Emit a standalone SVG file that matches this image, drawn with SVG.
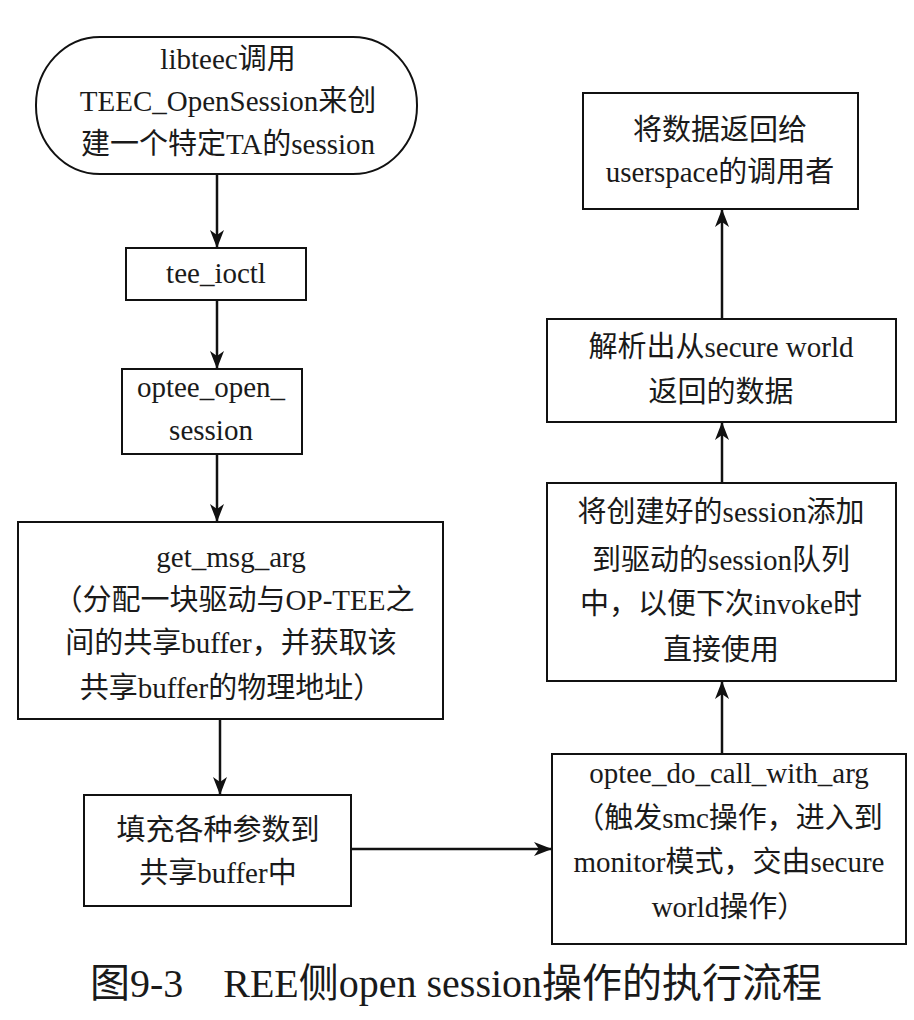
<svg xmlns="http://www.w3.org/2000/svg" width="914" height="1020" viewBox="0 0 914 1020">
<style>
.box{fill:#fff;stroke:#111;stroke-width:2}
.t{font-family:"Liberation Serif","Noto Sans CJK SC",serif;font-size:29px;fill:#1a1a1a;text-anchor:middle}
.cap{font-family:"Liberation Serif","Noto Sans CJK SC",serif;font-size:40px;fill:#1a1a1a;text-anchor:middle}
.c{fill:none;stroke:#111;stroke-width:2.5}
</style>
<defs>
<marker id="ah" markerUnits="userSpaceOnUse" markerWidth="20" markerHeight="16" refX="18" refY="7" orient="auto">
<path d="M0,0 L18,7 L0,14 L5,7 z" fill="#111"/>
</marker>
</defs>
<rect width="914" height="1020" fill="#fff"/>
<g id="connectors">
<line class="c" x1="217" y1="174" x2="217" y2="248" marker-end="url(#ah)"/>
<line class="c" x1="217" y1="300" x2="217" y2="369" marker-end="url(#ah)"/>
<line class="c" x1="217" y1="454" x2="217" y2="522" marker-end="url(#ah)"/>
<line class="c" x1="220" y1="719" x2="220" y2="795" marker-end="url(#ah)"/>
<line class="c" x1="351" y1="849" x2="552" y2="849" marker-end="url(#ah)"/>
<line class="c" x1="722" y1="754" x2="722" y2="681" marker-end="url(#ah)"/>
<line class="c" x1="722" y1="483" x2="722" y2="422" marker-end="url(#ah)"/>
<line class="c" x1="722" y1="319" x2="722" y2="209" marker-end="url(#ah)"/>
</g>
<g id="n1">
<rect class="box" x="36" y="37" width="381" height="137" rx="64" ry="68"/>
<text class="t" x="228" y="69">libteec调用</text>
<text class="t" x="228" y="111">TEEC_OpenSession来创</text>
<text class="t" x="228" y="154">建一个特定TA的session</text>
</g>
<g id="n2">
<rect class="box" x="126" y="248" width="180" height="52"/>
<text class="t" x="216" y="283">tee_ioctl</text>
</g>
<g id="n3">
<rect class="box" x="122" y="369" width="180" height="85"/>
<text class="t" x="211" y="397">optee_open_</text>
<text class="t" x="211" y="440">session</text>
</g>
<g id="n4">
<rect class="box" x="18" y="522" width="425" height="197"/>
<text class="t" x="231" y="567">get_msg_arg</text>
<text class="t" x="234" y="610">（分配一块驱动与OP-TEE之</text>
<text class="t" x="231" y="653">间的共享buffer，并获取该</text>
<text class="t" x="231" y="698">共享buffer的物理地址）</text>
</g>
<g id="n5">
<rect class="box" x="84" y="795" width="267" height="111"/>
<text class="t" x="218" y="840">填充各种参数到</text>
<text class="t" x="218" y="883">共享buffer中</text>
</g>
<g id="n6">
<rect class="box" x="552" y="754" width="354" height="190"/>
<text class="t" x="729" y="783">optee_do_call_with_arg</text>
<text class="t" x="729" y="828">（触发smc操作，进入到</text>
<text class="t" x="729" y="872">monitor模式，交由secure</text>
<text class="t" x="729" y="917">world操作）</text>
</g>
<g id="n7">
<rect class="box" x="547" y="483" width="349" height="198"/>
<text class="t" x="721" y="522">将创建好的session添加</text>
<text class="t" x="721" y="570">到驱动的session队列</text>
<text class="t" x="721" y="614">中，以便下次invoke时</text>
<text class="t" x="721" y="660">直接使用</text>
</g>
<g id="n8">
<rect class="box" x="547" y="319" width="349" height="103"/>
<text class="t" x="721" y="357">解析出从secure world</text>
<text class="t" x="721" y="402">返回的数据</text>
</g>
<g id="n9">
<rect class="box" x="583" y="93" width="275" height="116"/>
<text class="t" x="720" y="140">将数据返回给</text>
<text class="t" x="720" y="182">userspace的调用者</text>
</g>
<g id="caption">
<text class="cap" x="456" y="997">图9-3　REE侧open session操作的执行流程</text>
</g>
</svg>
